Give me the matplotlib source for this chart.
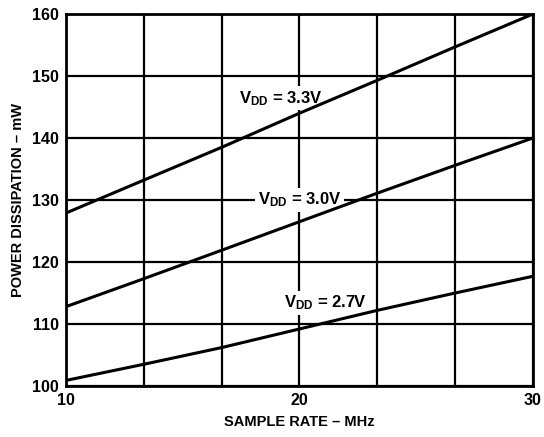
import matplotlib.pyplot as plt
import numpy as np

# data
sample_rate = [10, 13.33, 16.67, 20, 23.33, 26.67, 30]
p_33 = [127.9, 133.2, 138.5, 144.0, 149.3, 154.7, 160.0]
p_30 = [112.8, 117.3, 121.9, 126.5, 131.1, 135.6, 140.0]
p_27 = [100.9, 103.5, 106.2, 109.2, 112.2, 115.0, 117.7]

curve_labels = ["3.3V", "3.0V", "2.7V"]
label_pos = [(19.2, 146.4), (20.0, 130.0), (21.1, 113.4)]

plt.rcParams['font.family'] = 'Liberation Sans'
plt.rcParams['font.weight'] = 'bold'
plt.rcParams['mathtext.fontset'] = 'custom'
plt.rcParams['mathtext.rm'] = 'Liberation Sans:bold'
plt.rcParams['mathtext.bf'] = 'Liberation Sans:bold'
plt.rcParams['mathtext.it'] = 'Liberation Sans:bold'

fig = plt.figure(figsize=(5.44, 4.37), dpi=100)
ax = fig.add_axes([0.1213, 0.1167, 0.8585, 0.8513])
ax.set_axisbelow(True)

for series in (p_33, p_30, p_27):
    ax.plot(sample_rate, series, color='black', linewidth=2.2, zorder=3)

for txt, (x, y) in zip(curve_labels, label_pos):
    ax.text(x, y, r"$\mathrm{V_{DD}}$ = " + txt, fontsize=12, fontweight='bold',
            ha='center', va='center', zorder=2,
            bbox=dict(facecolor='white', edgecolor='none', pad=2))

ax.set_xlim(10, 30)
ax.set_ylim(100, 160)
ax.set_xticks([10, 20, 30])
ax.set_xticks([13.333, 16.667, 23.333, 26.667], minor=True)
ax.set_yticks(np.arange(100, 161, 10))
ax.grid(True, which='both', color='black', linewidth=1.6)
ax.tick_params(which='both', length=0, labelsize=11.5, pad=5)
for s in ax.spines.values():
    s.set_linewidth(2)
    s.set_zorder(4)

ax.set_xlabel("SAMPLE RATE – MHz", fontsize=10.5, fontweight='bold', labelpad=5)
ax.set_ylabel("POWER DISSIPATION – mW", fontsize=10.5, fontweight='bold', labelpad=5)

fig.savefig("out.png", dpi=100)
